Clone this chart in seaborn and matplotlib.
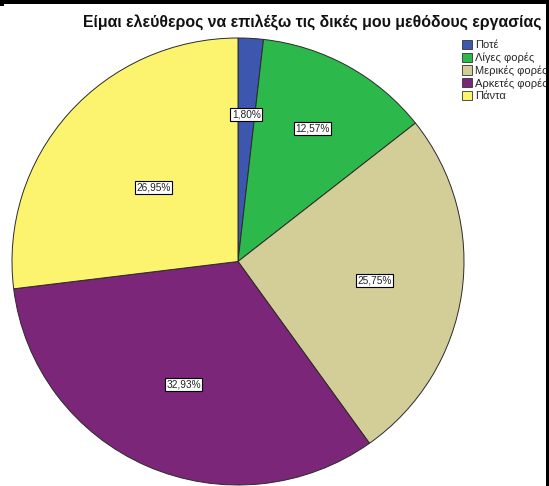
import matplotlib
matplotlib.use("Agg")
import matplotlib.pyplot as plt
import seaborn as sns
import numpy as np
from matplotlib.patches import Rectangle

categories = ["Ποτέ", "Λίγες φορές", "Μερικές φορές", "Αρκετές φορές", "Πάντα"]
values = [1.80, 12.57, 25.75, 32.93, 26.95]
colors = ["#3E57AE", "#2DB84C", "#D3CE97", "#7B2679", "#FCF46F"]
title = "Είμαι ελεύθερος να επιλέξω τις δικές μου μεθόδους εργασίας"
label_dist = [0.66, 0.68, 0.61, 0.60, 0.50]

sns.set_theme(style="white")
plt.rcParams["font.family"] = ["Liberation Sans", "DejaVu Sans"]

W, H = 549, 486
cx, cy, rx, ry = 238, 261.5, 226, 223.5
fig = plt.figure(figsize=(W/100, H/100), dpi=100)
ax = fig.add_axes([(cx - rx)/W, (H - cy - ry)/H, 2*rx/W, 2*ry/H])

wedges, texts = ax.pie(values, colors=colors, startangle=90, counterclock=False,
                       wedgeprops=dict(edgecolor="#2a2a2a", linewidth=0.7))
ax.set_xlim(-1, 1)
ax.set_ylim(-1, 1)
ax.set_aspect("auto")
ax.axis("off")

for w, v, d in zip(wedges, values, label_dist):
    ang = np.deg2rad((w.theta1 + w.theta2) / 2)
    ax.text(d*np.cos(ang), d*np.sin(ang), f"{v:.2f}%".replace(".", ","),
            ha="center", va="center", fontsize=7.3, color="#222222",
            bbox=dict(boxstyle="square,pad=0.15", fc="white", ec="black", lw=0.8))

fig.text(312/W, 1 - 23/H, title, ha="center", va="center",
         fontsize=11.4, fontweight="bold", color="#111111")

handles = [Rectangle((0, 0), 1, 1, fc=c, ec="#333333", lw=0.6) for c in colors]
fig.legend(handles, categories, loc="upper left", bbox_to_anchor=(462/W, 1 - 40/H),
           frameon=False, fontsize=8, handlelength=0.9, handleheight=0.9,
           handletextpad=0.25, labelspacing=0.2, borderaxespad=0, borderpad=0)

# black borders from the screenshot
fig.patches.append(Rectangle((0, 1 - 4/H), 1, 4/H, transform=fig.transFigure,
                             fc="black", ec="none", zorder=10))
fig.patches.append(Rectangle((0, 1 - 6/H), 4/W, 6/H, transform=fig.transFigure,
                             fc="black", ec="none", zorder=10))
fig.patches.append(Rectangle((1 - 3/W, 0), 3/W, 1, transform=fig.transFigure,
                             fc="black", ec="none", zorder=10))

fig.savefig("out.png", dpi=100)
